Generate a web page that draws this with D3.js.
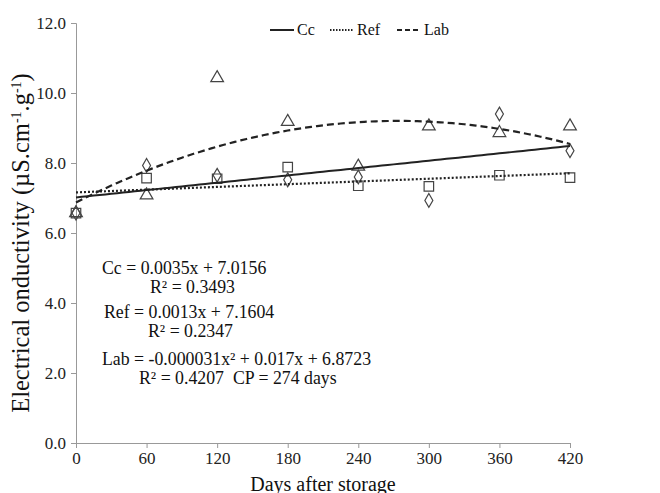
<!DOCTYPE html>
<html>
<head>
<meta charset="utf-8">
<script src="https://cdn.jsdelivr.net/npm/d3@7"></script>
<style>
  body { margin: 0; background: #fff; }
  text { font-family: "Liberation Serif", "DejaVu Serif", serif; }
</style>
</head>
<body>
<script>
// days after storage
let days = [0, 60, 120, 180, 240, 300, 360, 420];
// measured values (uS.cm-1.g-1)
let ccValues  = [6.57, 7.93, 7.65, 7.52, 7.60, 6.93, 9.40, 8.35];
let refValues = [6.57, 7.57, 7.55, 7.88, 7.35, 7.33, 7.65, 7.58];
let labValues = [6.57, 7.08, 10.43, 9.18, 7.90, 9.05, 8.86, 9.05];
// fitted trend coefficients [c0, c1, c2]
let ccFit  = [7.0156, 0.0035, 0];
let refFit = [7.1604, 0.0013, 0];
let labFit = [6.8723, 0.017, -0.000031];
let yTicks = [0, 2, 4, 6, 8, 10, 12];
let xTicks = [0, 60, 120, 180, 240, 300, 360, 420];

let width = 660, height = 493;
let margin = {top: 23, right: 90, bottom: 50, left: 76};

let svg = d3.select("body").append("svg")
  .attr("width", width).attr("height", height);

let xScale = d3.scaleLinear().domain([0, 420]).range([margin.left, width - margin.right]);
let yScale = d3.scaleLinear().domain([0, 12]).range([height - margin.bottom, margin.top]);

// axes
let yAxis = d3.axisLeft(yScale).tickValues(yTicks).tickSize(5).tickFormat(d3.format(".1f"));
let gy = svg.append("g").attr("transform", "translate(" + margin.left + ",0)").call(yAxis);
let xAxis = d3.axisBottom(xScale).tickValues(xTicks).tickSize(5);
let gx = svg.append("g").attr("transform", "translate(0," + (height - margin.bottom) + ")").call(xAxis);

[gx, gy].forEach(function(g) {
  g.selectAll("path, line").attr("stroke", "#999");
  g.selectAll("text").attr("fill", "#222").style("font-size", "17px")
    .style("font-family", "'Liberation Serif', serif");
});
gy.selectAll("text").attr("x", -10);
gx.selectAll("text").attr("y", 9);

// trend lines
let sampleX = d3.range(0, 421, 5);
function trend(coef) {
  return sampleX.map(function(x) { return [x, coef[0] + coef[1] * x + coef[2] * x * x]; });
}
let line = d3.line().x(function(d) { return xScale(d[0]); }).y(function(d) { return yScale(d[1]); });

let series = [
  {name: "Cc", values: ccValues, fit: ccFit, dash: null, sym: d3.symbolDiamond, size: 55},
  {name: "Ref", values: refValues, fit: refFit, dash: "2,2", sym: d3.symbolSquare, size: 90},
  {name: "Lab", values: labValues, fit: labFit, dash: "7,4", sym: d3.symbolTriangle, size: 70}
];

// markers
series.forEach(function(s) {
  svg.append("g").selectAll("path")
    .data(s.values)
    .enter()
    .append("path")
      .attr("d", d3.symbol().type(s.sym).size(s.size))
      .attr("transform", function(d, i) { return "translate(" + xScale(days[i]) + "," + yScale(d) + ")"; })
      .attr("fill", "none")
      .attr("stroke", "#444")
      .attr("stroke-width", 1.2);
});

series.forEach(function(s) {
  svg.append("path")
    .datum(trend(s.fit))
    .attr("d", line)
    .attr("fill", "none")
    .attr("stroke", "#222")
    .attr("stroke-width", s.name == "Cc" ? 2 : 2.2)
    .attr("stroke-dasharray", s.dash);
});

// legend
let legendX = [270, 330, 397];
series.forEach(function(s, i) {
  svg.append("line")
    .attr("x1", legendX[i]).attr("x2", legendX[i] + 24)
    .attr("y1", 30).attr("y2", 30)
    .attr("stroke", "#222").attr("stroke-width", 2)
    .attr("stroke-dasharray", s.name == "Ref" ? "1.5,1.5" : (s.name == "Lab" ? "5,3" : null));
  svg.append("text")
    .attr("x", legendX[i] + 27).attr("y", 35)
    .text(s.name)
    .style("font-size", "16px").attr("fill", "#111");
});

// equations
let eqs = [
  {x: 102, y: 274, t: "Cc = 0.0035x + 7.0156"},
  {x: 150, y: 293, t: "R² = 0.3493"},
  {x: 104, y: 318, t: "Ref = 0.0013x + 7.1604"},
  {x: 148, y: 337, t: "R² = 0.2347"},
  {x: 102, y: 365, t: "Lab = -0.000031x² + 0.017x + 6.8723"},
  {x: 139, y: 384, t: "R² = 0.4207  CP = 274 days"}
];
svg.append("g").selectAll("text")
  .data(eqs)
  .enter()
  .append("text")
    .attr("x", function(d) { return d.x; })
    .attr("y", function(d) { return d.y; })
    .attr("xml:space", "preserve")
    .text(function(d) { return d.t; })
    .style("font-size", "17.8px")
    .attr("fill", "#111");

// axis titles
svg.append("text")
  .attr("transform", "translate(29," + 243 + ") rotate(-90)")
  .attr("text-anchor", "middle")
  .style("font-size", "24.5px")
  .attr("fill", "#111")
  .html("Electrical onductivity (µS.cm<tspan dy='-8' font-size='14px'>-1</tspan><tspan dy='8'>.g</tspan><tspan dy='-8' font-size='14px'>-1</tspan><tspan dy='8'>)</tspan>");

svg.append("text")
  .attr("x", 323).attr("y", 491)
  .attr("text-anchor", "middle")
  .style("font-size", "20px")
  .attr("fill", "#111")
  .text("Days after storage");
</script>
</body>
</html>
